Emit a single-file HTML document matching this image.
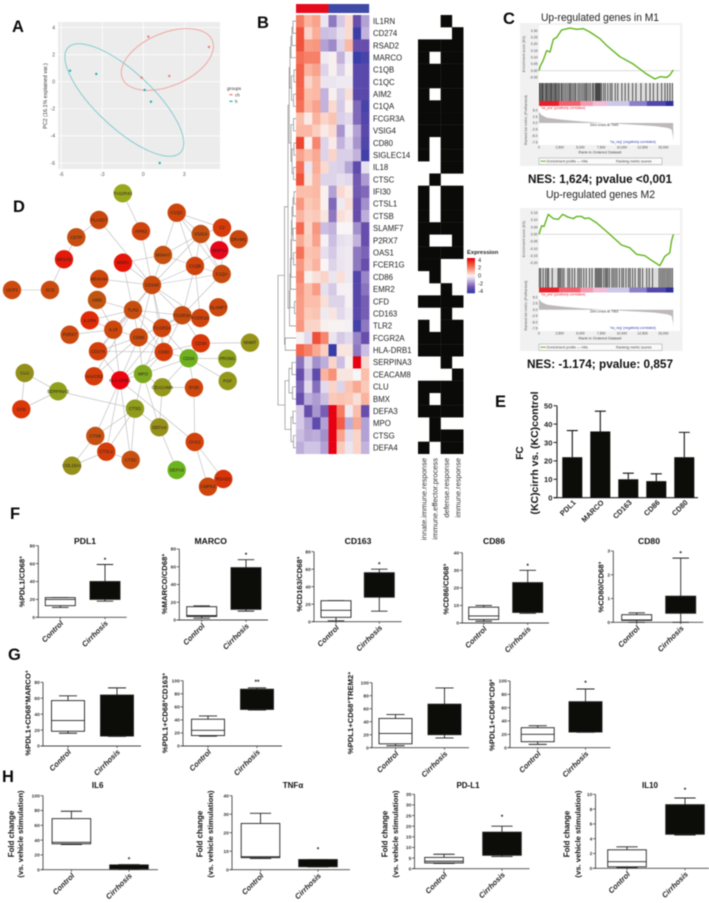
<!DOCTYPE html>
<html lang="en">
<head>
<meta charset="utf-8">
<title>Macrophage expression multi-panel figure</title>
<style>
html,body{margin:0;padding:0;background:#fff;width:709px;height:903px;overflow:hidden}
svg{display:block;font-family:"Liberation Sans",sans-serif;filter:blur(.4px)}
.pl{font-weight:bold;font-size:16.5px;fill:#0a0a0a}
</style>
</head>
<body>
<svg id="fig" xmlns="http://www.w3.org/2000/svg" width="709" height="903" viewBox="0 0 709 903">
<rect width="709" height="903" fill="#fff"/>
<text class="pl" x="12" y="32">A</text>
<text class="pl" x="257" y="28">B</text>
<text class="pl" x="503" y="24">C</text>
<text class="pl" x="13" y="212">D</text>
<text class="pl" x="495" y="407">E</text>
<text class="pl" x="10" y="519">F</text>
<text class="pl" x="8" y="660">G</text>
<text class="pl" x="2" y="782">H</text>
<g id="pca"></g>
<g id="heat"></g>
<g id="gsea"></g>
<g id="net"></g>
<g id="bars"></g>
<g id="boxes"></g>
</svg>
<script>
/* ---------- data: PCA ---------- */
const pcaXTicks = [-6, -3, 0, 3];
const pcaYTicks = [-6, -4, -2, 0, 2, 4];
const chPC1 = [0.37, 4.8, 1.9, -0.12];
const chPC2 = [3.32, 2.56, 0.42, 0.3];
const hPC1 = [-5.36, -3.44, 0.1, 0.56, 1.2];
const hPC2 = [0.81, 0.57, -0.61, -1.48, -6];
const chEllipse = [1.76, 1.64, 3.57, 1.95, -23];
const hEllipse = [-1.39, -1.35, 5.63, 2.07, 43];

/* ---------- data: heatmap ---------- */
const geneNames = ["IL1RN","CD274","RSAD2","MARCO","C1QB","C1QC","AIM2","C1QA","FCGR3A","VSIG4","CD80","SIGLEC14","IL18","CTSC","IFI30","CTSL1","CTSB","SLAMF7","P2RX7","OAS1","FCER1G","CD86","EMR2","CFD","CD163","TLR2","FCGR2A","HLA-DRB1","SERPINA3","CEACAM8","CLU","BMX","DEFA3","MPO","CTSG","DEFA4"];
const expression = [
[2.2,1.2,1.5,-0.3,-2.2,-0.8,0.5,-3,-1.5],
[3,0.6,1.3,-1,-0.9,-0.4,0.5,-4,-1.2],
[3,1.6,1.7,-1.5,-1.9,-0.6,1.1,-3,-3],
[2.4,2.1,2.1,-0.2,0.1,-1.2,-0.2,-4,-3.7],
[2.7,1.2,1.5,-0.6,0.1,-0.7,0.1,-3.3,-3.3],
[2.7,0.6,1.1,-0.3,-0.3,-0.2,-0.2,-3.3,-3.3],
[2.6,1,1.1,-1.2,0.1,-0.7,0.4,-3.3,-3.3],
[2.4,1.1,1.5,-1.2,0.5,-0.8,0.1,-2.5,-3.7],
[1,0.2,1.2,0.6,0.9,-0.7,-0.5,-2.5,-3.5],
[1.1,1.1,0.7,0.2,0.5,-1.7,-0.2,-1.5,-3.3],
[3.3,0.05,2,-0.6,0.2,-1.2,-0.5,-1.7,-3.5],
[1.5,1,1.4,-0.6,0.6,-0.7,-0.7,-1.2,-3.9],
[2.4,-0.3,1.3,0.5,-0.6,-0.7,-1.4,-3.2,-0.4],
[3,0.3,1.1,-0.6,-0.6,-0.4,-0.5,-2.8,-1.6],
[1,1,1.1,0.1,-1.5,0.5,0.2,-2.8,-2.5],
[1.7,0.8,1,0.1,-2.5,-0.2,0.4,-3,-1.8],
[1.2,0.7,0.8,0.3,-2.2,0.4,0.2,-3,-1.3],
[2.5,0.6,1.7,-1,-1.2,0,0,-1.8,-3],
[1.4,0.7,1.5,-0.1,-1,-0.4,-0.3,-1.2,-3],
[2.4,0.9,1,-0.4,-0.8,-0.3,-0.2,-2.2,-2.6],
[1.7,0.8,1.2,0,-0.6,-0.3,-0.2,-2.2,-3],
[2,0.1,0.4,0.6,-0.3,0.4,-0.2,-3.5,-2],
[1.7,1,1.6,-0.4,-0.8,-0.1,-0.1,-3.4,-2.3],
[1.6,1,1,0.4,-0.6,-0.6,-0.1,-3.4,-2.7],
[1.6,0.8,0.9,-0.2,0.3,-0.5,-0.2,-3.3,-2.7],
[1.7,0.6,0.6,0.1,0.05,0.05,-0.1,-3.8,-2.2],
[0.05,-0.5,3.1,2,-0.3,-0.8,-0.5,-2,-3],
[2.6,2.1,1.4,0.7,-4.3,0.3,0.3,-2.2,-1],
[-2.3,-0.6,-1.8,-1.3,0.6,-1,0.1,4.5,0.5],
[-3,-1,-3.2,1.2,1.8,0.3,0.3,0,1],
[-2.5,-0.5,-2.4,-0.5,0.6,-0.6,0.9,1.4,0.8],
[-3,-1.3,-1.6,-1,0.8,0.9,0.8,0.4,1.2],
[-0.8,-3,-1.7,-2.7,4.5,2.2,-0.2,1,-3],
[-0.8,-1.5,-3.2,-1.5,4.5,2.8,-1.3,1.4,-1.5],
[-1,-1.4,-1.3,-1.8,4.5,1.5,-0.5,0.6,-1.5],
[-1.3,-0.9,-0.9,-1.5,4.5,0.8,-0.3,0.6,-1.2]];
const goTerms = ["innate.immune.response","immune.effector.process","defense.response","immune.response"];
const goMembership = ["0010","0001","1111","1011","1111","1111","1011","1111","1111","1111","1011","1011","0011","0100","1011","1011","1011","1111","1001","1111","1100","0100","0010","1111","0010","1011","1111","1111","0010","0001","1111","1011","1111","0100","0111","1011"];
const colorbarTicks = [4, 2, 0, -2, -4];
const dendroUpperA = [6.8,[6,[5,[4,[3,0,1],2],3],[4.5,[2,4,5],[2.5,6,7]]],[5,[2.5,8,9],[4,[2,10,11],[2.5,12,13]]]];
const dendroUpperB = [7.2,[6.5,[6,[5.5,[5,[4.5,[4,[3,[2,14,15],16],[3,17,18]],[2.5,19,20]],21],22],[1.5,23,24]],25],[3,25,25]];
const dendroLower = [11,[7,[4,28,29],[3.5,30,31]],[5,[3,32,33],[2.5,34,35]]];
const dendroTree = [18,[11.5,[8,dendroUpperA,dendroUpperB[1]],[10.8,26,27]],dendroLower];

/* ---------- data: GSEA ---------- */
const es1Ranks = [0,120,520,920,1330,1730,2130,2730,3730,4540,5340,6140,7350,8150,9760,11370,12980,13990,14600,15400,15800,16200];
const es1Values = [0,.03,.08,.15,.14,.235,.25,.305,.32,.31,.315,.29,.24,.19,.105,.05,-.025,-.0625,-.045,-.05,-.0325,.005];
const es1Ticks = [.3,.25,.2,.15,.1,.05,0,-.05];
const hits1 = [60,150,300,420,520,700,850,950,1100,1250,1400,1500,1650,1800,1950,2050,2200,2350,2500,2700,2800,3000,3200,3400,3600,3750,3900,4100,4300,4450,4700,4900,5100,5300,5500,5650,5800,6000,6200,6450,6600,6800,6900,7000,7100,7200,7300,7400,7550,7800,8000,8300,8600,8800,9200,9500,10000,10400,10800,11300,11700,12300,12900,13400,13800,14300,14800,15200,15500,15800,16100];
const es2Ranks = [0,320,600,1120,1730,2330,2850,3540,4140,4540,5140,5540,6020,6950,8350,9960,10960,11770,12770,13780,14580,15180,15780,15980,16220];
const es2Values = [0,.06,.055,.14,.11,.105,.14,.12,.11,.125,.125,.11,.115,.08,.01,-.075,-.095,-.14,-.15,-.19,-.22,-.155,-.13,-.05,0];
const es2Ticks = [.15,.1,.05,0,-.05,-.1,-.15,-.2];
const hits2 = [40,200,500,800,1000,1150,1600,2300,2450,2600,2800,3000,3500,3700,4000,4300,4700,4900,5100,5400,5700,6100,6400,6800,6950,7100,7250,7400,7550,7800,8000,8150,8300,8500,8800,9000,9200,9400,9700,10000,10200,10500,10800,11000,11300,11600,12000,12200,12500,13000,13300,13700,14500,14700,14900,15100,15300,15500,15700,15900,16100];
const rankPositions = [0,200,500,1000,3000,5500,7949,10000,12000,14000,15500,16000,16150,16200];
const rankMetric = [4.4,3.4,2.7,2,1.2,.5,0,-.4,-.8,-1.2,-1.9,-2.5,-5,-7];
const rankTicks = [5,2.5,0,-2.5,-5,-7.5];
const rankAxisTicks = [0,2500,5000,7500,10000,12500,15000];

/* ---------- data: network ---------- */
const netNodes = [
["TAS2R43",122.7,193.3,"#9aa81e"],["PLA2G7",99,220,"#c9470f"],["CETP",76.3,237.3,"#c64e10"],["NR1H3",64,259.3,"#e4190a"],["SCD",50,290,"#cb4b0e"],["UCP2",12,290,"#cc4a0d"],["FPR3",141,231.3,"#ce440c"],["C1QC",176.7,212.7,"#cd450d"],["VSIG4",200.7,234,"#c34f10"],["C2",222,227.7,"#d63b0a"],["DRAM1",238.7,239.3,"#c9480e"],["MMP14",219.3,250.3,"#e8061a"],["MS4A7",163,255,"#c45110"],["MSR1",123,262.7,"#e51508"],["C1QB",195,266,"#d0420b"],["C1QA",221.7,274,"#c94a0e"],["MS4A4A",99.3,279,"#cd460c"],["CD163",152,285,"#c94a0e"],["AIM2",97,300,"#c05510"],["SLAMF7",218.3,307.3,"#cc470d"],["TLR2",133,310,"#c84c0e"],["FCGR3A",182.3,315.3,"#c84b0e"],["FCER1G",200.3,318,"#cf440c"],["IL1RN",89.7,320.3,"#df2c08"],["IL18",113.3,329.7,"#cd470c"],["FCGR2A",162,328,"#cf430c"],["P2RX7",69.7,334.7,"#c9490e"],["CD86",138.7,337.3,"#c94a0e"],["CD38",200.7,343.3,"#d93609"],["NNMT",250,342.7,"#96951a"],["CD274",98,351.3,"#d23f0b"],["CD80",163.7,352,"#d33d0a"],["CD34",188.7,358.3,"#6eb01e"],["PROM1",227.3,358.7,"#8ea01c"],["PGF",227.7,381,"#94981a"],["HAVCR2",94,376.3,"#d43c0a"],["HLA-DRB1",120,380.3,"#ec0510"],["MPO",143,374,"#7fa81e"],["CEACAM8",162.3,387.3,"#94981a"],["IFI30",194,387.7,"#cd460c"],["CLU",24.7,373,"#93901a"],["SERPINA3",58,391.3,"#8fa01c"],["CFD",21.3,409.3,"#db3608"],["CTSG",135,408.7,"#8f9c1c"],["DEFA4",159.3,427.3,"#96901a"],["CTSB",95.3,436,"#c65010"],["OAS1",194.7,442,"#d0420b"],["CTSL1",106.3,451.7,"#d43c0a"],["CTSC",130.7,460,"#c75010"],["COL15A1",72,465.7,"#96901a"],["DEFA3",176.7,470,"#6cb41e"],["RSAD2",223.3,479,"#d8340a"],["CMPK2",208,486.7,"#cd460c"]];
const netEdges = "TAS2R43-FPR3 PLA2G7-CETP PLA2G7-CD163 CETP-NR1H3 NR1H3-SCD SCD-UCP2 FPR3-CD163 C1QC-MS4A7 C1QC-VSIG4 C1QC-C1QB C1QC-C2 C1QC-C1QA C2-VSIG4 C2-C1QA VSIG4-C1QB VSIG4-MS4A7 VSIG4-C1QA MS4A7-MSR1 MS4A7-C1QB MS4A7-CD163 C1QB-CD163 C1QB-C1QA C1QB-MMP14 C1QA-CD163 VSIG4-CD163 CD163-MS4A4A CD163-MSR1 MSR1-TLR2 CD163-TLR2 CD163-FCGR3A CD163-FCER1G CD163-FCGR2A CD163-CD86 CD163-IL18 CD163-CD80 C1QA-FCGR3A C1QB-FCGR3A C1QB-FCER1G AIM2-TLR2 AIM2-IL18 IL1RN-TLR2 IL1RN-IL18 P2RX7-IL18 TLR2-IL18 TLR2-FCGR2A TLR2-FCGR3A TLR2-CD86 TLR2-CD80 TLR2-CD274 IL18-CD86 IL18-HLA-DRB1 IL18-CD274 FCGR3A-FCGR2A FCGR3A-FCER1G FCGR3A-CD86 FCGR3A-CD80 FCGR3A-CD38 FCGR2A-FCER1G FCGR2A-CD80 FCGR2A-HLA-DRB1 FCGR2A-MPO CD86-CD80 CD86-CD274 CD86-HLA-DRB1 CD86-MPO CD274-CD80 CD274-HLA-DRB1 HAVCR2-CD86 HAVCR2-TLR2 CD80-HLA-DRB1 CD80-MPO CD38-CD34 CD38-NNMT CD38-CD80 CD34-PROM1 CD34-PGF CD34-MPO CD34-CEACAM8 CD34-IFI30 CD34-FCGR2A CD34-CD80 CEACAM8-MPO CEACAM8-IFI30 CEACAM8-DEFA4 MPO-CTSG MPO-DEFA4 MPO-HLA-DRB1 HLA-DRB1-CTSB HLA-DRB1-CTSL1 HLA-DRB1-CTSC HLA-DRB1-OAS1 CTSG-SERPINA3 SERPINA3-CLU SERPINA3-CFD CLU-CFD CTSG-CTSB CTSG-CTSL1 CTSG-CTSC CTSG-DEFA4 CTSB-CTSL1 CTSB-COL15A1 CTSL1-COL15A1 CTSL1-CTSC IFI30-OAS1 DEFA4-DEFA3 OAS1-RSAD2 OAS1-CMPK2 RSAD2-CMPK2".split(" ");

/* ---------- data: panel E ---------- */
const fcMarkers = ["PDL1","MARCO","CD163","CD86","CD80"];
const fcMeans = [22, 36, 10, 9, 22];
const fcUpper = [36.5, 47, 13.3, 13, 35.5];
const fcTicks = [0, 10, 20, 30, 40, 50];

/* ---------- data: box plots [min, q1, median, q3, max] ---------- */
const groupLabels = ["Control","Cirrhosis"];
const pdl1Ctrl=[11,13,20,22,22], pdl1Cirr=[18,20,30,40,59], pdl1Ticks=[0,20,40,60,80];
const marcoCtrl=[2,4,5,15,16], marcoCirr=[10,12,30,59,68], marcoTicks=[0,20,40,60,80];
const cd163Ctrl=[1,5,13,24,24], cd163Cirr=[12,28,40,56,60], cd163Ticks=[0,20,40,60,80];
const cd86Ctrl=[1,2,4,9,10], cd86Cirr=[5.5,6,15,23,30], cd86Ticks=[0,10,20,30,40];
const cd80Ctrl=[0,.08,.1,.32,.4], cd80Cirr=[0,.38,.7,1.1,2.7], cd80Ticks=[0,1,2,3];
const dpMarcoCtrl=[16,18.5,32,57,63], dpMarcoCirr=[12,12.5,40,64,73], dpMarcoTicks=[0,20,40,60,80];
const dpCd163Ctrl=[15,16,24,41,46], dpCd163Cirr=[55,56,70,87,89], dpCd163Ticks=[0,20,40,60,80,100];
const dpTrem2Ctrl=[3,6,22,45,51], dpTrem2Cirr=[15,20,40,67,92], dpTrem2Ticks=[0,20,40,60,80,100];
const dpCd9Ctrl=[5,9,20,30,33], dpCd9Cirr=[23,23.5,45,69,88], dpCd9Ticks=[0,20,40,60,80,100];
const il6Ctrl=[34,35,37,69,79], il6Cirr=[.5,1,3,6.5,7], il6Ticks=[0,20,40,60,80,100];
const tnfCtrl=[6,6.5,7,25,30.5], tnfCirr=[1.5,1.6,4,5.5,5.5], tnfTicks=[0,10,20,30,40];
const pdl1StimCtrl=[2.5,2.7,3.5,5.3,6.8], pdl1StimCirr=[5.7,6.3,12,17.2,20], pdl1StimTicks=[0,5,10,15,20,25,30,35];
const il10Ctrl=[.1,.2,.9,2.5,2.9], il10Cirr=[4.5,4.6,6,8.6,9.5], il10Ticks=[0,2,4,6,8,10];

/* ---------- helpers ---------- */
const NS = "http://www.w3.org/2000/svg";
function el(tag, attrs, parent, text) {
  const e = document.createElementNS(NS, tag);
  for (const k in attrs) e.setAttribute(k, attrs[k]);
  if (text !== undefined) e.textContent = text;
  parent.appendChild(e);
  return e;
}
function linear(d0, d1, r0, r1) { return v => r0 + (v - d0) * (r1 - r0) / (d1 - d0); }

/* ---------- panel A ---------- */
(function () {
  const g = document.getElementById("pca");
  const x = linear(0, 3, 143.3, 184.3), y = linear(0, 4, 81.7, 27.5);
  const bg = el("rect", {x:58, y:22, width:162, height:147, fill:"#ececec"}, g);
  
  
  pcaXTicks.forEach(t => {
    const gl = el("line", {x1:x(t), x2:x(t), y1:22, y2:169, stroke:"#fff", "stroke-width":.7}, g);
    
    
    const lb = el("text", {x:x(t), y:176, "font-size":5, fill:"#555", "text-anchor":"middle"}, g, String(t));
    
    
  });
  pcaYTicks.forEach(t => {
    const gl = el("line", {y1:y(t), y2:y(t), x1:58, x2:220, stroke:"#fff", "stroke-width":.7}, g);
    
    
    const lb = el("text", {x:55, y:y(t)+1.8, "font-size":5, fill:"#555", "text-anchor":"end"}, g, String(t));
    
    
  });
  const unitX = x(1) - x(0), unitY = y(0) - y(1);
  [[chEllipse,"#efa29c","ch"],[hEllipse,"#7cc8cc","h"]].forEach(p => {
    const c = p[0], cx = x(c[0]), cy = y(c[1]);
    const e = el("ellipse", {cx:cx, cy:cy, rx:c[2]*unitX, ry:c[3]*unitY, fill:"none", stroke:p[1], "stroke-width":.9, transform:"rotate("+c[4]+" "+cx+" "+cy+")"}, g);
    
    
  });
  chPC1.forEach((v, i) => {
    const d = el("circle", {cx:x(v), cy:y(chPC2[i]), r:1.2, fill:"#ee7d75"}, g);
    
    
  });
  hPC1.forEach((v, i) => {
    const d = el("circle", {cx:x(v), cy:y(hPC2[i]), r:1.2, fill:"#1eb3b8"}, g);
    
    
  });
  const yt = el("text", {transform:"translate(47,96) rotate(-90)", "font-size":5.4, fill:"#333", "text-anchor":"middle"}, g, "PC2 (16.1% explained var.)");
  
  
  const lt = el("text", {x:227, y:90, "font-size":4.6, fill:"#333"}, g, "groups");
  
  
  [["ch","#ee7d75",94.7],["h","#1eb3b8",101.3]].forEach(p => {
    const m = el("line", {x1:229, x2:233, y1:p[2], y2:p[2], stroke:p[1], "stroke-width":.7}, g);
    
    
    const d = el("circle", {cx:231, cy:p[2], r:.9, fill:p[1]}, g);
    
    
    const t = el("text", {x:235, y:p[2]+1.6, "font-size":4.4, fill:"#333"}, g, p[0]);
    
    
  });
})();

/* ---------- panel B ---------- */
(function () {
  const g = document.getElementById("heat");
  const left = 296, top = 15, cw = 8.13, rh = 12.19;
  const stops = [[-4.5,[52,58,168]],[-4,[58,62,168]],[-3,[104,78,172]],[-2,[152,132,198]],[-1,[204,190,226]],[0,[248,245,246]],[1,[251,190,170]],[2.5,[244,106,80]],[3.5,[235,60,40]],[4.5,[230,0,18]]];
  function color(v) {
    v = Math.max(-4.5, Math.min(4.5, v));
    for (let i = 1; i < stops.length; i++) {
      if (v <= stops[i][0]) {
        const a = stops[i-1], b = stops[i], t = (v-a[0])/(b[0]-a[0]);
        return "rgb(" + a[1].map((c,k) => Math.round(c+(b[1][k]-c)*t)).join(",") + ")";
      }
    }
    return "rgb(230,0,18)";
  }
  const rowY = i => top + rh * (i + .5);
  const h1 = el("rect", {x:left, y:4, width:cw*4, height:9, fill:"#e60a1c"}, g);
  
  
  const h2 = el("rect", {x:left+cw*4, y:4, width:cw*5, height:9, fill:"#3f4aa6"}, g);
  
  
  expression.forEach((row, r) => {
    row.forEach((v, c) => {
      const cell = el("rect", {x:left+c*cw, y:top+r*rh, width:cw+.2, height:rh+.2, fill:color(v)}, g);
      
      
    });
    const lab = el("text", {x:373, y:rowY(r)+2.8, "font-size":7.8, fill:"#222"}, g, geneNames[r]);
    
    
  });
  /* binary GO matrix */
  const gx = 418, gw = 11.33;
  goMembership.forEach((s, r) => {
    s.split("").forEach((b, c) => {
      if (b === "1") {
        const cell = el("rect", {x:gx+c*gw, y:top+r*rh, width:gw+.15, height:rh+.15, fill:"#0a0a08"}, g);
        
        
      }
    });
  });
  goTerms.forEach((t, c) => {
    const lab = el("text", {transform:"translate("+(gx+c*gw+gw/2+2.6)+",458) rotate(-90)", "font-size":7.5, fill:"#333", "text-anchor":"end"}, g, t);
    
    
  });
  /* dendrogram */
  function dendro(n) {
    if (typeof n === "number") return {x:left, y:rowY(n)};
    const a = dendro(n[1]), b = dendro(n[2]), x = left - n[0];
    const p = el("path", {d:"M"+a.x+" "+a.y+"H"+x+"V"+b.y+"H"+b.x, fill:"none", stroke:"#8c8c8c", "stroke-width":.7}, g);
    
    
    return {x:x, y:(a.y+b.y)/2};
  }
  dendro(dendroTree);
  /* colorbar */
  const cbTop = 258, cbH = 35;
  const barScale = linear(4.5, -4.5, cbTop, cbTop + cbH);
  for (let i = 0; i < 36; i++) {
    const v = 4.5 - i * .25;
    const s = el("rect", {x:467, y:barScale(v), width:8, height:cbH/36+.3, fill:color(v)}, g);
    
    
  }
  const cbt = el("text", {x:467, y:254, "font-size":5.8, fill:"#222", "font-weight":"bold"}, g, "Expression");
  
  
  colorbarTicks.forEach(t => {
    const lb = el("text", {x:478, y:barScale(t)+2, "font-size":5.8, fill:"#222"}, g, String(t));
    
    
  });
})();

/* ---------- panel C ---------- */
function drawGsea(cfg) {
  const root = document.getElementById("gsea");
  const g = el("g", {}, root);
  
  
  const x = linear(0, 15000, 539, 663.3);
  const y = linear(0, .05, cfg.esZero, cfg.esZero - cfg.esPer05);
  const ry = linear(0, 1, cfg.rankZero, cfg.rankZero - cfg.rankPer1);
  const bg = el("rect", {x:520, y:cfg.top-2, width:162.5, height:143, fill:"#f1f1f1"}, g);
  
  
  const pa = el("rect", {x:539, y:cfg.top, width:141, height:cfg.top2-cfg.top, fill:"#fff"}, g);
  
  
  const pb = el("rect", {x:539, y:cfg.hitsTop, width:141, height:cfg.axisY-cfg.hitsTop, fill:"#fff"}, g);
  
  
  const band = el("rect", {x:x(0), y:cfg.hitsTop, width:x(16200)-x(0), height:cfg.hitsBottom-cfg.hitsTop, fill:"#dcdcdc"}, g);
  
  
  const zl = el("line", {x1:539, x2:680, y1:y(0), y2:y(0), stroke:"#bbb", "stroke-width":.5}, g);
  
  
  cfg.esTicks.forEach(t => {
    const lb = el("text", {x:537.5, y:y(t)+1.2, "font-size":3.4, fill:"#444", "text-anchor":"end"}, g, t.toFixed(2));
    
    
  });
  const ylab = el("text", {transform:"translate(525,"+((cfg.top+cfg.top2)/2)+") rotate(-90)", "font-size":3.6, fill:"#555", "text-anchor":"middle"}, g, "Enrichment score (ES)");
  
  
  const es = el("path", {d:cfg.ranks.map((r,i)=>(i?"L":"M")+x(r)+" "+y(cfg.values[i])).join(""), fill:"none", stroke:"#62b51e", "stroke-width":1.4, "stroke-linejoin":"round"}, g);
  
  
  cfg.hits.forEach(h => {
    const l = el("line", {x1:x(h), x2:x(h), y1:cfg.hitsTop, y2:cfg.hitsBottom, stroke:"#151515", "stroke-width":.85, opacity:.8}, g);
    
    
  });
  [[0,2400,"#e5222c"],[2400,5000,"#f0606f"],[5000,6500,"#f29ab0"],[6500,8200,"#f0bcd6"],[8200,10900,"#cdc8e8"],[10900,13000,"#8a80c8"],[13000,15300,"#5248aa"],[15300,16200,"#2f2f9c"]].forEach(s => {
    const b = el("rect", {x:x(s[0]), y:cfg.hitsBottom, width:x(s[1])-x(s[0])+.2, height:5, fill:s[2]}, g);
    
    
  });
  const area = el("path", {d:"M"+x(0)+" "+ry(0)+rankPositions.map((r,i)=>"L"+x(r)+" "+ry(rankMetric[i])).join("")+"L"+x(16200)+" "+ry(0)+"Z", fill:"#bdb9b9"}, g);
  
  
  rankTicks.forEach(t => {
    const lb = el("text", {x:537.5, y:ry(t)+1.2, "font-size":3.4, fill:"#444", "text-anchor":"end"}, g, t.toFixed(1));
    
    
  });
  const yl2 = el("text", {transform:"translate(527,"+((cfg.hitsTop+cfg.axisY)/2+6)+") rotate(-90)", "font-size":3.6, fill:"#555", "text-anchor":"middle"}, g, "Ranked list metric (PreRanked)");
  
  
  rankAxisTicks.forEach(t => {
    const lb = el("text", {x:x(t), y:cfg.axisY+3.6, "font-size":3.4, fill:"#444", "text-anchor":"middle"}, g, t.toLocaleString("en-US"));
    
    
  });
  const pos = el("text", {x:541, y:cfg.hitsBottom+8, "font-size":3.3, fill:"#e02030"}, g, "'ha_pos' (positively correlated)");
  
  
  const neg = el("text", {x:610, y:cfg.axisY-2, "font-size":3.3, fill:"#3040b0"}, g, "'ha_neg' (negatively correlated)");
  
  
  const zc = el("text", {x:590, y:cfg.rankZero+3, "font-size":3.4, fill:"#333"}, g, cfg.zeroText);
  
  
  const xl = el("text", {x:600, y:cfg.axisY+8.6, "font-size":3.9, fill:"#444", "text-anchor":"middle"}, g, "Rank in Ordered Dataset");
  
  
  const lg = el("rect", {x:539, y:cfg.axisY+13, width:123, height:6.5, fill:"#fafafa", stroke:"#888", "stroke-width":.4}, g);
  
  
  const sw = el("line", {x1:540.5, x2:546, y1:cfg.axisY+16.2, y2:cfg.axisY+16.2, stroke:"#62b51e", "stroke-width":1}, g);
  
  
  const lt = el("text", {x:547, y:cfg.axisY+17.6, "font-size":3.6, fill:"#444"}, g, "Enrichment profile — Hits");
  
  
  const lt2 = el("text", {x:616, y:cfg.axisY+17.6, "font-size":3.6, fill:"#444"}, g, "Ranking metric scores");
  
  
  const ti = el("text", {x:cfg.titleX, y:cfg.titleY, "font-size":11, fill:"#222", textLength:cfg.titleLen, lengthAdjust:"spacingAndGlyphs"}, g, cfg.title);
  
  
  const ne = el("text", {x:cfg.nesX, y:cfg.nesY, "font-size":11.5, "font-weight":"bold", fill:"#111", textLength:cfg.nesLen, lengthAdjust:"spacingAndGlyphs"}, g, cfg.nes);
  
  
}
drawGsea({name:"gsea-m1", ranks:es1Ranks, values:es1Values, hits:hits1, esTicks:es1Ticks, top:25, top2:83, hitsTop:83, hitsBottom:101, axisY:145, esZero:70.7, esPer05:6.67, rankZero:123, rankPer1:2.57, zeroText:"Zero cross at 7949", title:"Up-regulated genes in M1", titleX:541, titleY:21, titleLen:118, nes:"NES: 1,624; pvalue <0,001", nesX:528, nesY:183, nesLen:144});
drawGsea({name:"gsea-m2", ranks:es2Ranks, values:es2Values, hits:hits2, esTicks:es2Ticks, top:210, top2:268, hitsTop:268, hitsBottom:287.5, axisY:331, esZero:234.3, esPer05:7.13, rankZero:309.7, rankPer1:2.47, zeroText:"Zero cross at 7963", title:"Up-regulated genes M2", titleX:546, titleY:198, titleLen:109, nes:"NES: -1.174; pvalue: 0,857", nesX:527, nesY:368, nesLen:146});

/* ---------- panel D ---------- */
(function () {
  const g = document.getElementById("net");
  const lookup = {};
  netNodes.forEach(n => lookup[n[0]] = n);
  netEdges.forEach(e => {
    let a, b;
    for (const n of netNodes) {
      if (e.startsWith(n[0] + "-") && lookup[e.slice(n[0].length + 1)]) { a = n; b = lookup[e.slice(n[0].length + 1)]; }
    }
    const l = el("line", {x1:a[1], y1:a[2], x2:b[1], y2:b[2], stroke:"#b9b9b9", "stroke-width":.6}, g);
    
    
  });
  netNodes.forEach(n => {
    const c = el("circle", {cx:n[1], cy:n[2], r:9.2, fill:n[3]}, g);
    
    
    const t = el("text", {x:n[1], y:n[2]+1.5, "font-size":4.4, fill:"#2a2020", "text-anchor":"middle"}, g, n[0]);
    
    
  });
})();

/* ---------- panel E ---------- */
(function () {
  const g = document.getElementById("bars");
  const y = linear(0, 50, 497.7, 405.7);
  const bw = 20;
  const x = i => 572.3 + i * 28;
  const ya = el("line", {x1:557, x2:557, y1:y(50), y2:y(0), stroke:"#222", "stroke-width":1.1}, g);
  
  
  const xa = el("line", {x1:553.5, x2:698, y1:y(0), y2:y(0), stroke:"#222", "stroke-width":1.1}, g);
  
  
  fcTicks.forEach(t => {
    const k = el("line", {x1:553.5, x2:557, y1:y(t), y2:y(t), stroke:"#222", "stroke-width":1}, g);
    
    
    const lb = el("text", {x:552.5, y:y(t)+2.8, "font-size":7.6, "font-weight":"bold", fill:"#222", "text-anchor":"end"}, g, String(t));
    
    
  });
  fcMarkers.forEach((m, i) => {
    const b = el("rect", {x:x(i)-bw/2, y:y(fcMeans[i]), width:bw, height:y(0)-y(fcMeans[i]), fill:"#0c0c08"}, g);
    
    
    const w = el("path", {d:"M"+x(i)+" "+y(fcMeans[i])+"V"+y(fcUpper[i])+"M"+(x(i)-5.5)+" "+y(fcUpper[i])+"H"+(x(i)+5.5), stroke:"#111", "stroke-width":1.1, fill:"none"}, g);
    
    
    const lb = el("text", {transform:"translate("+(x(i)+4)+",503) rotate(-45)", "font-size":7.4, "font-weight":"bold", fill:"#222", "text-anchor":"end"}, g, m);
    
    
  });
  const t1 = el("text", {transform:"translate(523,453) rotate(-90)", "font-size":10, "font-weight":"bold", fill:"#111", "text-anchor":"middle"}, g, "FC");
  
  
  const t2 = el("text", {transform:"translate(538,453) rotate(-90)", "font-size":10, "font-weight":"bold", fill:"#111", "text-anchor":"middle", textLength:123, lengthAdjust:"spacingAndGlyphs"}, g, "(KC)cirrh vs. (KC)control");
  
  
})();

/* ---------- panels F, G, H ---------- */
function boxPlot(c) {
  const root = document.getElementById("boxes");
  const g = el("g", {}, root);
  
  
  const ticks = c.ticks, y = linear(ticks[0], ticks[ticks.length-1], c.yBase, c.yTop);
  const ya = el("line", {x1:c.x0, x2:c.x0, y1:c.yTop, y2:c.yBase, stroke:"#444", "stroke-width":.9}, g);
  
  
  const xa = el("line", {x1:c.x0-2.5, x2:c.x1, y1:c.yBase, y2:c.yBase, stroke:"#444", "stroke-width":.9}, g);
  
  
  ticks.forEach(t => {
    const k = el("line", {x1:c.x0-2.5, x2:c.x0, y1:y(t), y2:y(t), stroke:"#444", "stroke-width":.8}, g);
    
    
    const lb = el("text", {x:c.x0-3.2, y:y(t)+1.7, "font-size":4.9, "font-weight":"bold", fill:"#333", "text-anchor":"end"}, g, String(t));
    
    
  });
  [[c.ctrl,c.cx1,"#fff","#222"],[c.cirr,c.cx2,"#0c0c08","#0c0c08"]].forEach((b, i) => {
    const d = b[0], cx = b[1], bw = c.bw, cap = bw * .55;
    const wh = el("path", {d:"M"+cx+" "+y(d[0])+"V"+y(d[4])+"M"+(cx-cap/2)+" "+y(d[0])+"H"+(cx+cap/2)+"M"+(cx-cap/2)+" "+y(d[4])+"H"+(cx+cap/2), stroke:"#222", "stroke-width":.9, fill:"none"}, g);
    
    
    const bx = el("rect", {x:cx-bw/2, y:y(d[3]), width:bw, height:y(d[1])-y(d[3]), fill:b[2], stroke:"#222", "stroke-width":.9}, g);
    
    
    const md = el("line", {x1:cx-bw/2, x2:cx+bw/2, y1:y(d[2]), y2:y(d[2]), stroke:b[3], "stroke-width":.9}, g);
    
    
    const k = el("line", {x1:cx, x2:cx, y1:c.yBase, y2:c.yBase+2, stroke:"#444", "stroke-width":.8}, g);
    
    
    const lb = el("text", {transform:"translate("+(cx+3.5)+","+(c.yBase+6.5)+") rotate(-45)", "font-size":7.6, "font-weight":"bold", "font-style":"italic", fill:"#222", "text-anchor":"end"}, g, groupLabels[i]);
    
    
  });
  if (c.star) {
    const s = el("text", {x:c.cx2, y:y(c.cirr[4])-c.starGap, "font-size":6.5, "font-weight":"bold", fill:"#222", "text-anchor":"middle"}, g, c.star);
    
    
  }
  if (c.title) {
    const t = el("text", {x:c.titleX, y:c.titleY, "font-size":c.titleSize || 8.6, "font-weight":"bold", fill:"#111", "text-anchor":"middle"}, g, c.title);
    
    
  }
  c.ylabels.forEach(yl => {
    const t = el("text", {transform:"translate("+yl.x+","+c.ylY+") rotate(-90)", "font-size":yl.size, "font-weight":"bold", fill:"#111", "text-anchor":"middle"}, g);
    
    
    yl.parts.forEach((p, i) => {
      const sp = el("tspan", i % 2 ? {"font-size":yl.size*.65, dy:-2} : {dy: i ? 2 : 0}, t, p);
      
      
    });
  });
}
const singleLabel = (x, parts) => [{x:x, size:7.7, parts:parts}];
const foldLabel = (x1, x2) => [{x:x1, size:7.9, parts:["Fold change"]},{x:x2, size:7.7, parts:["(vs. vehicle stimulation)"]}];
/* F */
boxPlot({id:"box-plot-pdl1", title:"PDL1", titleX:85, titleY:544, ticks:pdl1Ticks, ctrl:pdl1Ctrl, cirr:pdl1Cirr, x0:38.3, x1:126.7, yTop:545.7, yBase:617.3, cx1:60.3, cx2:105, bw:30, star:"*", starGap:2.5, ylY:581.5, ylabels:singleLabel(24.5,["%PDL1/CD68","+"])});
boxPlot({id:"box-plot-marco", title:"MARCO", titleX:210.7, titleY:544, ticks:marcoTicks, ctrl:marcoCtrl, cirr:marcoCirr, x0:179.3, x1:268, yTop:549, yBase:620, cx1:201.7, cx2:246, bw:30, star:"*", starGap:2.5, ylY:584, ylabels:singleLabel(167,["%MARCO/CD68","+"])});
boxPlot({id:"box-plot-cd163", title:"CD163", titleX:358, titleY:544, ticks:cd163Ticks, ctrl:cd163Ctrl, cirr:cd163Cirr, x0:314, x1:401.7, yTop:551.7, yBase:621.7, cx1:336, cx2:379.3, bw:30, star:"*", starGap:2.5, ylY:584, ylabels:singleLabel(302,["%CD163/CD68","+"])});
boxPlot({id:"box-plot-cd86", title:"CD86", titleX:494, titleY:544, ticks:cd86Ticks, ctrl:cd86Ctrl, cirr:cd86Cirr, x0:462.3, x1:549, yTop:552.7, yBase:623, cx1:483.7, cx2:527.7, bw:30, star:"*", starGap:2.5, ylY:589, ylabels:singleLabel(448.5,["%CD86/CD68","+"])});
boxPlot({id:"box-plot-cd80", title:"CD80", titleX:649, titleY:544, ticks:cd80Ticks, ctrl:cd80Ctrl, cirr:cd80Cirr, x0:613.3, x1:703.3, yTop:551, yBase:622.3, cx1:636.7, cx2:680.7, bw:30, star:"*", starGap:2.5, ylY:587, ylabels:singleLabel(603.5,["%CD80/CD68","+"])});
/* G */
boxPlot({id:"box-plot-pdl1-marco", ticks:dpMarcoTicks, ctrl:dpMarcoCtrl, cirr:dpMarcoCirr, x0:43, x1:141, yTop:682.3, yBase:746, cx1:68, cx2:117, bw:33, ylY:713, ylabels:singleLabel(30.5,["%PDL1+CD68","+","MARCO","+"])});
boxPlot({id:"box-plot-pdl1-cd163", ticks:dpCd163Ticks, ctrl:dpCd163Ctrl, cirr:dpCd163Cirr, x0:183, x1:282, yTop:680.7, yBase:746, cx1:208, cx2:257, bw:33, star:"**", starGap:4, ylY:713, ylabels:singleLabel(167.5,["%PDL1+CD68","+","CD163","+"])});
boxPlot({id:"box-plot-pdl1-trem2", ticks:dpTrem2Ticks, ctrl:dpTrem2Ctrl, cirr:dpTrem2Cirr, x0:372, x1:469, yTop:682.7, yBase:747.7, cx1:395.5, cx2:444.5, bw:33, ylY:713, ylabels:singleLabel(353,["%PDL1+CD68","+","TREM2","+"])});
boxPlot({id:"box-plot-pdl1-cd9", ticks:dpCd9Ticks, ctrl:dpCd9Ctrl, cirr:dpCd9Cirr, x0:510, x1:610.5, yTop:681, yBase:747.7, cx1:537.7, cx2:585.5, bw:33, star:"*", starGap:4, ylY:715, ylabels:singleLabel(494.5,["%PDL1+CD68","+","CD9","+"])});
/* H */
boxPlot({id:"box-plot-il6", title:"IL6", titleX:97.7, titleY:788, titleSize:8, ticks:il6Ticks, ctrl:il6Ctrl, cirr:il6Cirr, x0:43, x1:158, yTop:795.7, yBase:869.7, cx1:71.4, cx2:129, bw:38.6, star:"*", starGap:3, ylY:834, ylabels:foldLabel(14,23)});
boxPlot({id:"box-plot-tnfa", title:"TNFα", titleX:293, titleY:788, titleSize:8, ticks:tnfTicks, ctrl:tnfCtrl, cirr:tnfCirr, x0:232, x1:350, yTop:795.7, yBase:869.7, cx1:260.5, cx2:318, bw:38.6, star:"*", starGap:8, ylY:834, ylabels:foldLabel(202.5,213)});
boxPlot({id:"box-plot-pdl1-stim", title:"PD-L1", titleX:468, titleY:788, titleSize:8, ticks:pdl1StimTicks, ctrl:pdl1StimCtrl, cirr:pdl1StimCirr, x0:414.5, x1:529.5, yTop:794.3, yBase:868.7, cx1:444, cx2:502, bw:38.6, star:"*", starGap:7, ylY:834, ylabels:foldLabel(387.5,398)});
boxPlot({id:"box-plot-il10", title:"IL10", titleX:650, titleY:788, titleSize:8, ticks:il10Ticks, ctrl:il10Ctrl, cirr:il10Cirr, x0:595.5, x1:709, yTop:794.3, yBase:868.3, cx1:627, cx2:685, bw:38.6, star:"*", starGap:6, ylY:834, ylabels:foldLabel(569.5,580.5)});
</script>
</body>
</html>
